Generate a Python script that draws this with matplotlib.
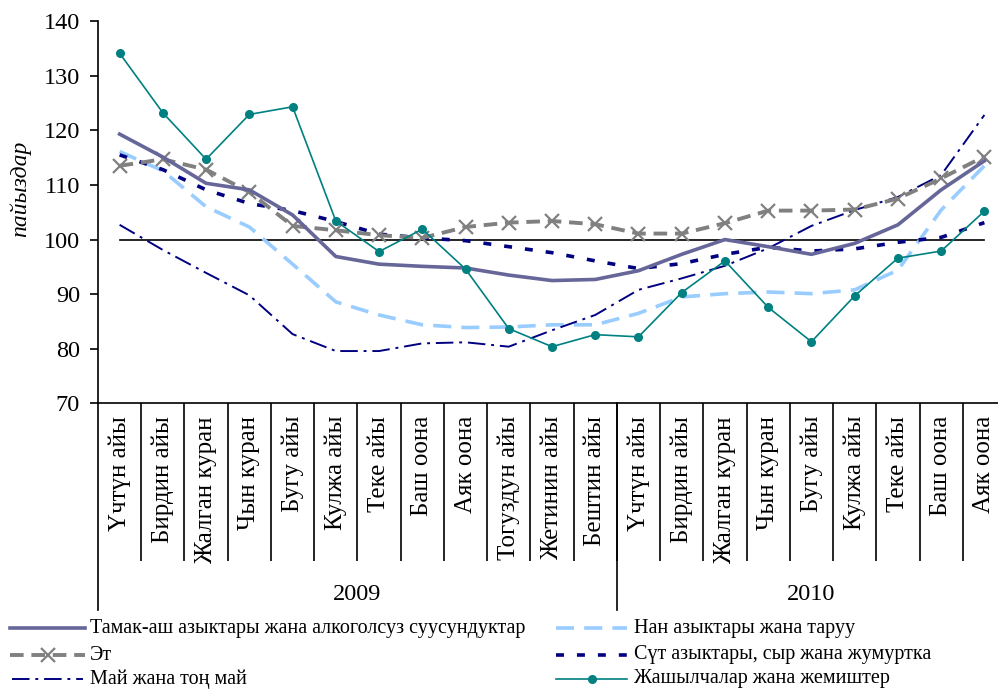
import matplotlib
matplotlib.use('Agg')
import matplotlib.pyplot as plt
from matplotlib.lines import Line2D

plt.rcParams['font.family'] = ['Liberation Serif', 'DejaVu Serif']

months = ['Үчтүн айы', 'Бирдин айы', 'Жалган куран', 'Чын куран', 'Бугу айы',
          'Кулжа айы', 'Теке айы', 'Баш оона', 'Аяк оона', 'Тогуздун айы',
          'Жетинин айы', 'Бештин айы',
          'Үчтүн айы', 'Бирдин айы', 'Жалган куран', 'Чын куран', 'Бугу айы',
          'Кулжа айы', 'Теке айы', 'Баш оона', 'Аяк оона']
years = ['2009', '2010']
year_counts = [12, 9]

food = [119.3, 115.1, 110.3, 109.1, 104.5, 96.9, 95.5, 95.1, 94.8, 93.5, 92.5,
        92.7, 94.3, 97.3, 100.0, 98.7, 97.3, 99.3, 102.7, 109.1, 114.4]
bread = [116.1, 112.6, 106.0, 102.3, 95.5, 88.6, 86.2, 84.4, 83.9, 84.0, 84.4,
         84.4, 86.5, 89.5, 90.1, 90.4, 90.1, 90.8, 94.4, 105.4, 113.5]
meat = [113.5, 114.7, 112.8, 108.7, 102.5, 101.7, 100.8, 100.3, 102.3, 103.1, 103.4,
        102.8, 101.1, 101.1, 103.0, 105.3, 105.3, 105.5, 107.5, 111.2, 115.2]
dairy = [115.5, 112.8, 109.1, 106.6, 105.3, 103.3, 101.0, 100.3, 99.8, 98.7, 97.6,
         96.1, 94.7, 95.6, 97.3, 98.6, 97.9, 98.3, 99.5, 100.4, 103.1]
oil = [102.7, 98.1, 93.9, 89.8, 82.7, 79.6, 79.6, 81.0, 81.2, 80.4, 83.4,
       86.2, 90.8, 92.9, 95.2, 98.4, 102.5, 105.4, 107.8, 111.8, 122.8]
veg = [134.1, 123.2, 114.7, 122.9, 124.3, 103.4, 97.8, 101.9, 94.6, 83.7, 80.4,
       82.6, 82.2, 90.3, 96.1, 87.6, 81.3, 89.7, 96.6, 97.9, 105.2]
reference = 100

labels = ['Тамак-аш азыктары жана алкоголсуз суусундуктар', 'Эт', 'Май жана тоң май',
          'Нан азыктары жана таруу', 'Сүт азыктары, сыр жана жумуртка',
          'Жашылчалар жана жемиштер']

styles = {
    'food': dict(color='#666699', lw=2.6, ls='-'),
    'meat': dict(color='#808080', lw=2.8, ls=(0, (3.5, 2.0)), marker='x', ms=9.5, mew=1.6),
    'oil': dict(color='#000080', lw=1.4, ls=(0, (9, 3, 1.5, 3))),
    'bread': dict(color='#99CCFF', lw=2.6, ls=(0, (5, 2.8))),
    'dairy': dict(color='#000080', lw=2.6, ls=(0, (2.2, 3.6))),
    'veg': dict(color='#008080', lw=1.2, ls='-', marker='o', ms=5.5),
}

W, H = 998, 690
fig = plt.figure(figsize=(W / 100, H / 100), dpi=100)
ax_left, ax_right, ax_top, ax_bot = 98, 1006, 21, 403.5
ax = fig.add_axes([ax_left / W, 1 - ax_bot / H, (ax_right - ax_left) / W, (ax_bot - ax_top) / H])

x = list(range(len(months)))
ax.plot([x[0], x[-1]], [reference, reference], color='black', lw=1.2, zorder=1)
series = [('bread', bread), ('dairy', dairy), ('oil', oil), ('meat', meat), ('food', food), ('veg', veg)]
for key, vals in series:
    ax.plot(x, vals, **styles[key], zorder=2)

ax.set_xlim(-0.5, len(months) - 0.5)
ax.set_ylim(70, 140)
ax.set_yticks(range(70, 141, 10))
ax.tick_params(axis='y', direction='out', length=6, width=1.2, labelsize=17.5, pad=7)
ax.set_xticks(x)
ax.set_xticklabels(months, rotation=90, fontsize=18)
ax.tick_params(axis='x', which='major', length=0, pad=9)
ax.set_xticks([k + 0.5 for k in range(len(months) - 1)], minor=True)
ax.tick_params(axis='x', which='minor', direction='out', length=(561 - ax_bot) * 0.72, width=1.2)
for s in ['top', 'right']:
    ax.spines[s].set_visible(False)
for s in ['left', 'bottom']:
    ax.spines[s].set_linewidth(1.2)

axh = ax_bot - ax_top
ylow = (ax_bot - 610) / axh
trans = ax.get_xaxis_transform()
ax.plot([-0.5, -0.5], [0, ylow], color='black', lw=1.2, transform=trans, clip_on=False)
ax.plot([year_counts[0] - 0.5, year_counts[0] - 0.5], [0, ylow], color='black', lw=1.2,
        transform=trans, clip_on=False)
start = 0
for yr, n in zip(years, year_counts):
    ax.text(start + (n - 1) / 2, (ax_bot - 595) / axh, yr, transform=trans,
            ha='center', va='center', fontsize=17.5)
    start += n

fig.text(20 / W, 1 - 189 / H, 'пайыздар', rotation=90, style='italic', fontsize=17,
         ha='center', va='center')

# legend
leg_items = [('food', 10, 85, 628, 90), ('meat', 10, 85, 655, 90), ('oil', 12, 83, 679, 90),
             ('bread', 556, 627, 628, 634), ('dairy', 556, 627, 655, 634), ('veg', 556, 627, 679, 634)]
for (key, x0, x1, yy, tx), lab in zip(leg_items, labels):
    st = dict(styles[key])
    ln = Line2D([x0 / W, x1 / W], [1 - yy / H, 1 - yy / H], transform=fig.transFigure, **st)
    if 'marker' in st:
        ln.set_markevery([1])
        ln.set_data([x0 / W, (x0 + x1) / 2 / W, x1 / W], [1 - yy / H] * 3)
    fig.add_artist(ln)
    fig.text(tx / W, 1 - yy / H, lab, fontsize=14.5, ha='left', va='center')

fig.savefig('out.png', dpi=100)
